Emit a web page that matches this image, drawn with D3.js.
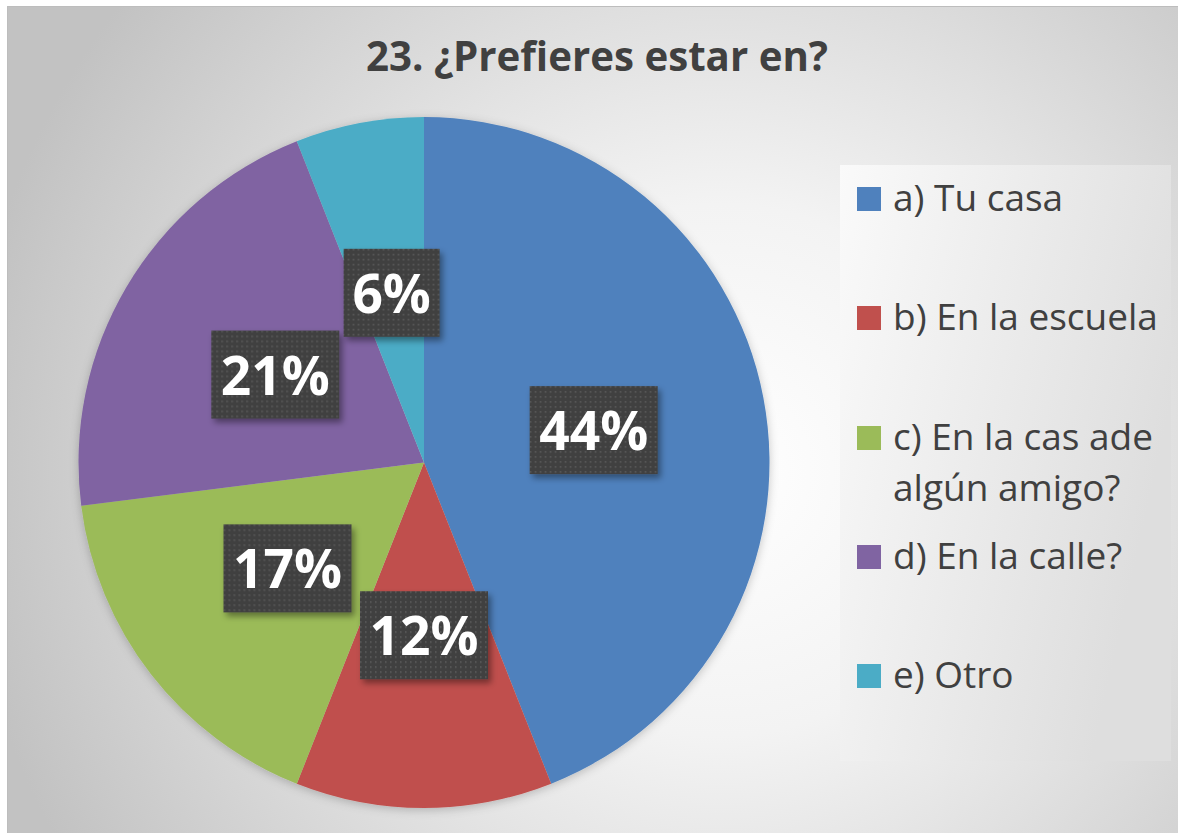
<!DOCTYPE html>
<html><head><meta charset="utf-8">
<script src="https://cdn.jsdelivr.net/npm/d3@7"></script>
<style>html,body{margin:0;padding:0;background:#fff;}svg{display:block;}</style>
</head><body>
<svg id="chart" width="1178" height="833"></svg>
<script>
const title = "23. ¿Prefieres estar en?";
const categories = ["a) Tu casa", "b) En la escuela", "c) En la cas ade algún amigo?", "d) En la calle?", "e) Otro"];
const legendLines = [["a) Tu casa"], ["b) En la escuela"], ["c) En la cas ade", "algún amigo?"], ["d) En la calle?"], ["e) Otro"]];
const values = [44, 12, 17, 21, 6];
const labels = ["44%", "12%", "17%", "21%", "6%"];
const colors = ["#4F81BD", "#C0504D", "#9BBB59", "#8064A2", "#4BACC6"];

const svg = d3.select("#chart");
const W = 1178, H = 833;
const defs = svg.append("defs");

// background gradient
const bg = defs.append("radialGradient").attr("id", "bg")
  .attr("gradientUnits", "userSpaceOnUse").attr("cx", 720).attr("cy", 470).attr("r", 760);
bg.append("stop").attr("offset", "0").attr("stop-color", "#ffffff");
bg.append("stop").attr("offset", "0.35").attr("stop-color", "#f3f3f3");
bg.append("stop").attr("offset", "1").attr("stop-color", "#c2c2c2");

const pat = defs.append("pattern").attr("id", "dots").attr("patternUnits", "userSpaceOnUse")
  .attr("width", 5).attr("height", 5);
pat.append("rect").attr("width", 5).attr("height", 5).attr("fill", "#404040");
pat.append("rect").attr("x", 1).attr("y", 1).attr("width", 1.6).attr("height", 1.6).attr("fill", "#5a5a5a");

const sh = defs.append("filter").attr("id", "boxShadow").attr("x", "-20%").attr("y", "-20%").attr("width", "150%").attr("height", "150%");
sh.append("feDropShadow").attr("dx", 3).attr("dy", 4).attr("stdDeviation", 3).attr("flood-color", "#000").attr("flood-opacity", 0.4);
const ps = defs.append("filter").attr("id", "pieShadow").attr("x", "-10%").attr("y", "-10%").attr("width", "120%").attr("height", "120%");
ps.append("feDropShadow").attr("dx", 0).attr("dy", 2).attr("stdDeviation", 5).attr("flood-color", "#000").attr("flood-opacity", 0.22);

const lg = defs.append("linearGradient").attr("id", "legBg").attr("x1", 0).attr("y1", 0).attr("x2", 1).attr("y2", 0.4);
lg.append("stop").attr("offset", "0").attr("stop-color", "#fafafa");
lg.append("stop").attr("offset", "1").attr("stop-color", "#dedede");

svg.append("rect").attr("x", 7).attr("y", 6).attr("width", W - 7).attr("height", H - 6)
  .attr("fill", "url(#bg)");
svg.append("path").attr("d", `M7.5,${H} V6.5 H${W}`).attr("fill", "none").attr("stroke", "#bdbdbd").attr("stroke-width", 1);

function fit(sel, target) {
  const n = sel.node();
  const fs = parseFloat(sel.attr("font-size"));
  const w = n.getComputedTextLength();
  sel.attr("font-size", (fs * target / w).toFixed(2));
}

// title
const t = svg.append("text").attr("x", 597).attr("y", 71).attr("text-anchor", "middle")
  .attr("font-family", "'Open Sans', sans-serif").attr("font-weight", "bold")
  .attr("font-size", 42).attr("fill", "#404040").text(title);
fit(t, 462);

// pie
const cx = 424, cy = 462.5, R = 345.5;
const pie = d3.pie().sort(null).value(d => d)(values);
const arc = d3.arc().innerRadius(0).outerRadius(R);
const labelArc = d3.arc().innerRadius(R * 0.5).outerRadius(R * 0.5);
const g = svg.append("g").attr("transform", `translate(${cx},${cy})`);
g.append("g").attr("filter", "url(#pieShadow)").selectAll("path").data(pie).join("path")
  .attr("d", arc).attr("fill", (d, i) => colors[i]);

// labels
const lab = g.selectAll("g.lab").data(pie).join("g").attr("class", "lab")
  .attr("transform", d => { const c = labelArc.centroid(d); return `translate(${c[0]},${c[1]})`; });
lab.append("rect")
  .attr("x", (d, i) => labels[i].length > 2 ? -64 : -48)
  .attr("width", (d, i) => labels[i].length > 2 ? 128 : 96)
  .attr("y", -44).attr("height", 88)
  .attr("fill", "url(#dots)").attr("filter", "url(#boxShadow)");
const lt = lab.append("text").attr("text-anchor", "middle").attr("y", 20)
  .attr("font-family", "'Open Sans', sans-serif").attr("font-weight", "bold")
  .attr("font-size", 54).attr("fill", "#ffffff").text((d, i) => labels[i]);
const scale = (() => { const n = lt.nodes()[0]; return 109 / n.getComputedTextLength(); })();
lt.attr("font-size", 54 * scale);

// legend
svg.append("rect").attr("x", 840).attr("y", 165).attr("width", 331).attr("height", 596)
  .attr("fill", "url(#legBg)");
const baselines = [211, 330, 450, 569, 688];
const leg = svg.append("g");
const items = leg.selectAll("g").data(legendLines).join("g");
items.append("rect").attr("x", 857).attr("y", (d, i) => baselines[i] - 24)
  .attr("width", 24).attr("height", 24).attr("fill", (d, i) => colors[i]);
const txt = items.append("text").attr("x", 893).attr("y", (d, i) => baselines[i])
  .attr("font-family", "'Open Sans', sans-serif").attr("font-size", 32).attr("fill", "#404040");
txt.selectAll("tspan").data(d => d).join("tspan").attr("x", 893).attr("dy", (d, j) => j === 0 ? 0 : 51).text(d => d);
const bn = txt.nodes()[1];
const lscale = 265 / bn.getComputedTextLength();
txt.attr("font-size", 32 * lscale);
</script>
</body></html>
